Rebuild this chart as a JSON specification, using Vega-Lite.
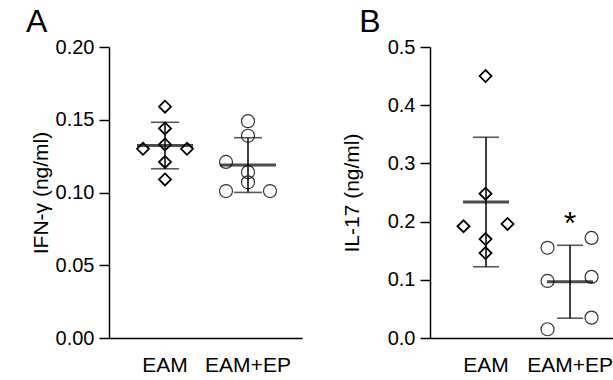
{
  "$schema": "https://vega.github.io/schema/vega-lite/v6.json",
  "background": "white",
  "padding": {"left": 26, "top": 6, "right": 0, "bottom": 0},
  "spacing": 39,
  "config": {
    "font": "Liberation Sans",
    "view": {"stroke": null},
    "axis": {
      "labelFont": "Liberation Sans", "titleFont": "Liberation Sans",
      "labelColor": "black", "titleColor": "black",
      "domainColor": "black", "tickColor": "black",
      "domainWidth": 1.5, "tickWidth": 1.5,
      "labelFontSize": 20, "titleFontSize": 21, "titleFontWeight": "normal",
      "grid": false
    },
    "title": {"fontSize": 32, "fontWeight": "normal", "anchor": "start", "font": "Liberation Sans", "color": "black", "frame": "bounds"}
  },
  "datasets": {
    "ifn": [
      {"group": "EAM", "lane": "C", "value": 0.159},
      {"group": "EAM", "lane": "C", "value": 0.144},
      {"group": "EAM", "lane": "C", "value": 0.133},
      {"group": "EAM", "lane": "L", "value": 0.130},
      {"group": "EAM", "lane": "R", "value": 0.130},
      {"group": "EAM", "lane": "C", "value": 0.121},
      {"group": "EAM", "lane": "C", "value": 0.109},
      {"group": "EAM+EP", "lane": "C", "value": 0.149},
      {"group": "EAM+EP", "lane": "C", "value": 0.139},
      {"group": "EAM+EP", "lane": "L", "value": 0.121},
      {"group": "EAM+EP", "lane": "C", "value": 0.114},
      {"group": "EAM+EP", "lane": "C", "value": 0.107},
      {"group": "EAM+EP", "lane": "L", "value": 0.101},
      {"group": "EAM+EP", "lane": "R", "value": 0.101}
    ],
    "il17": [
      {"group": "EAM", "lane": "C", "value": 0.450},
      {"group": "EAM", "lane": "C", "value": 0.248},
      {"group": "EAM", "lane": "L", "value": 0.192},
      {"group": "EAM", "lane": "R", "value": 0.196},
      {"group": "EAM", "lane": "C", "value": 0.170},
      {"group": "EAM", "lane": "C", "value": 0.146},
      {"group": "EAM+EP", "lane": "R", "value": 0.172},
      {"group": "EAM+EP", "lane": "L", "value": 0.155},
      {"group": "EAM+EP", "lane": "L", "value": 0.098},
      {"group": "EAM+EP", "lane": "R", "value": 0.105},
      {"group": "EAM+EP", "lane": "R", "value": 0.035},
      {"group": "EAM+EP", "lane": "L", "value": 0.015}
    ],
    "star": [
      {"group": "EAM+EP", "value": 0.178, "label": "*"}
    ]
  },
  "hconcat": [
    {
      "title": {"text": "A", "dx": -4, "offset": -2},
      "width": 193, "height": 291,
      "data": {"name": "ifn"},
      "encoding": {
        "x": {"field": "group", "type": "nominal",
          "scale": {"type": "band", "domain": ["EAM", "EAM+EP"], "paddingInner": 0, "paddingOuter": 0.1627, "align": 0.537},
          "axis": {"title": null, "ticks": false, "labelAngle": 0, "labelPadding": 16, "labelFontSize": 21}}
      },
      "layer": [
        {
          "transform": [{"filter": "datum.group === 'EAM'"}],
          "mark": {"type": "point", "shape": "diamond", "filled": false, "stroke": "black", "strokeWidth": 1.8, "size": 144, "opacity": 1},
          "encoding": {
            "xOffset": {"field": "lane", "type": "nominal", "scale": {"type": "band", "domain": ["L", "C", "R"], "paddingInner": 0, "paddingOuter": 0.386}},
            "y": {"field": "value", "type": "quantitative", "scale": {"domain": [0, 0.2]},
              "axis": {"values": [0, 0.05, 0.1, 0.15, 0.2], "format": ".2f", "tickSize": 10, "labelPadding": 5, "title": "IFN-γ (ng/ml)", "titlePadding": 4}}
          }
        },
        {
          "transform": [{"filter": "datum.group === 'EAM+EP'"}],
          "mark": {"type": "point", "shape": "circle", "filled": false, "stroke": "#333", "strokeWidth": 1.2, "size": 169, "opacity": 1},
          "encoding": {
            "xOffset": {"field": "lane", "type": "nominal", "scale": {"type": "band", "domain": ["L", "C", "R"], "paddingInner": 0, "paddingOuter": 0.386}},
            "y": {"field": "value", "type": "quantitative"}
          }
        },
        {
          "transform": [
            {"aggregate": [{"op": "mean", "field": "value", "as": "mean"}, {"op": "stdev", "field": "value", "as": "sd"}], "groupby": ["group"]},
            {"calculate": "datum.mean - datum.sd", "as": "lo"},
            {"calculate": "datum.mean + datum.sd", "as": "hi"}
          ],
          "layer": [
            {"mark": {"type": "rule", "color": "#111", "strokeWidth": 1.6}, "encoding": {"y": {"field": "lo", "type": "quantitative"}, "y2": {"field": "hi"}}},
            {"mark": {"type": "tick", "color": "#111", "size": 28, "thickness": 1.6}, "encoding": {"y": {"field": "lo", "type": "quantitative"}}},
            {"mark": {"type": "tick", "color": "#111", "size": 28, "thickness": 1.6}, "encoding": {"y": {"field": "hi", "type": "quantitative"}}},
            {"mark": {"type": "tick", "color": "black", "size": 56, "thickness": 3}, "encoding": {"y": {"field": "mean", "type": "quantitative"}}}
          ]
        }
      ]
    },
    {
      "title": {"text": "B", "dx": 18, "offset": -2},
      "width": 186, "height": 291,
      "data": {"name": "il17"},
      "encoding": {
        "x": {"field": "group", "type": "nominal",
          "scale": {"type": "band", "domain": ["EAM", "EAM+EP"], "paddingInner": 0, "paddingOuter": 0.107, "align": 0.78},
          "axis": {"title": null, "ticks": false, "labelAngle": 0, "labelPadding": 16, "labelFontSize": 21}}
      },
      "layer": [
        {
          "transform": [{"filter": "datum.group === 'EAM'"}],
          "mark": {"type": "point", "shape": "diamond", "filled": false, "stroke": "black", "strokeWidth": 1.8, "size": 144, "opacity": 1},
          "encoding": {
            "xOffset": {"field": "lane", "type": "nominal", "scale": {"type": "band", "domain": ["L", "C", "R"], "paddingInner": 0, "paddingOuter": 2}},
            "y": {"field": "value", "type": "quantitative", "scale": {"domain": [0, 0.5]},
              "axis": {"values": [0, 0.1, 0.2, 0.3, 0.4, 0.5], "format": ".1f", "tickSize": 10, "labelPadding": 5, "title": "IL-17 (ng/ml)", "titlePadding": 25}}
          }
        },
        {
          "transform": [{"filter": "datum.group === 'EAM+EP'"}],
          "mark": {"type": "point", "shape": "circle", "filled": false, "stroke": "#333", "strokeWidth": 1.2, "size": 169, "opacity": 1},
          "encoding": {
            "xOffset": {"field": "lane", "type": "nominal", "scale": {"type": "band", "domain": ["L", "C", "R"], "paddingInner": 0, "paddingOuter": 2}},
            "y": {"field": "value", "type": "quantitative"}
          }
        },
        {
          "transform": [
            {"aggregate": [{"op": "mean", "field": "value", "as": "mean"}, {"op": "stdev", "field": "value", "as": "sd"}], "groupby": ["group"]},
            {"calculate": "datum.mean - datum.sd", "as": "lo"},
            {"calculate": "datum.mean + datum.sd", "as": "hi"}
          ],
          "layer": [
            {"mark": {"type": "rule", "color": "#111", "strokeWidth": 1.6}, "encoding": {"y": {"field": "lo", "type": "quantitative"}, "y2": {"field": "hi"}}},
            {"mark": {"type": "tick", "color": "#111", "size": 26, "thickness": 1.6}, "encoding": {"y": {"field": "lo", "type": "quantitative"}}},
            {"mark": {"type": "tick", "color": "#111", "size": 26, "thickness": 1.6}, "encoding": {"y": {"field": "hi", "type": "quantitative"}}},
            {"mark": {"type": "tick", "color": "black", "size": 46, "thickness": 3}, "encoding": {"y": {"field": "mean", "type": "quantitative"}}}
          ]
        },
        {
          "data": {"name": "star"},
          "mark": {"type": "text", "fontSize": 32, "baseline": "alphabetic", "align": "center", "color": "black", "font": "Liberation Sans"},
          "encoding": {
            "y": {"field": "value", "type": "quantitative"},
            "text": {"field": "label"}
          }
        }
      ]
    }
  ]
}
